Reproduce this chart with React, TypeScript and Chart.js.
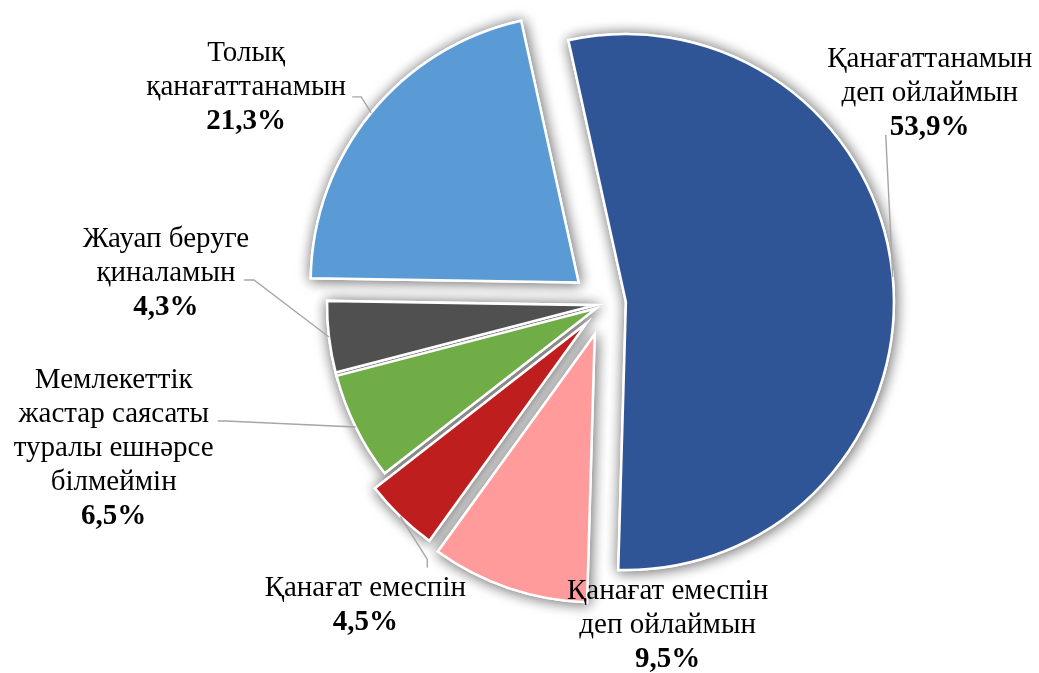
import React, { useEffect, useRef } from 'react';
import { Chart, registerables } from 'chart.js';

Chart.register(...registerables);

// ---- data ----
const categories: string[][] = [
  ['Қанағаттанамын', 'деп ойлаймын'],
  ['Қанағат емеспін', 'деп ойлаймын'],
  ['Қанағат емеспін'],
  ['Мемлекеттік', 'жастар саясаты', 'туралы ешнәрсе', 'білмеймін'],
  ['Жауап беруге', 'қиналамын'],
  ['Толық', 'қанағаттанамын'],
];
const values: number[] = [53.9, 9.5, 4.5, 6.5, 4.3, 21.3];

// ---- styles / layout ----
const sliceColors = ['#2F5597', '#FF9B9B', '#BE1E1E', '#70AD47', '#505050', '#5B9BD5'];
const explodeOffsets = [21, 32, 27, 10, 10, 34];
// label centre x offset and first baseline y offset, relative to the slice's outer mid point
const labelOffsets: [number, number][] = [
  [37, -210],
  [159, 11],
  [-35, 80],
  [-242, -39],
  [-163, -90],
  [-125, -52],
];
// leader line points relative to the slice's outer mid point
const leaderPaths: [number, number][][] = [
  [[0, 0], [-7, -142]],
  [],
  [[0, 0], [27, 43], [27, 51]],
  [[0, 0], [-130, -6], [-138, -6]],
  [[0, 0], [-75, -57], [-85, -57]],
  [[0, 0], [-10, -16], [-19, -16]],
];

const FONT_FAMILY = "'Liberation Serif', 'Times New Roman', serif";
const FONT_SIZE = 29;
const LINE_H = 34;

const fmt = (v: number) => v.toFixed(1).replace('.', ',') + '%';

const explodePlugin = {
  id: 'explode',
  afterDatasetsUpdate(chart: any) {
    const meta = chart.getDatasetMeta(0);
    meta.data.forEach((arc: any, i: number) => {
      const mid = (arc.startAngle + arc.endAngle) / 2;
      const d = explodeOffsets[i] || 0;
      arc.x += Math.cos(mid) * d;
      arc.y += Math.sin(mid) * d;
    });
  },
};

const shadowPlugin = {
  id: 'sliceShadow',
  beforeDatasetDraw(chart: any, args: any) {
    const ctx = chart.ctx;
    const meta = chart.getDatasetMeta(args.index);
    ctx.save();
    ctx.shadowColor = 'rgba(0,0,0,0.6)';
    ctx.shadowBlur = 14;
    ctx.shadowOffsetX = 1;
    ctx.shadowOffsetY = 1;
    meta.data.forEach((arc: any) => arc.draw(ctx));
    ctx.restore();
  },
};

const labelPlugin = {
  id: 'outLabels',
  afterDatasetsDraw(chart: any) {
    const ctx = chart.ctx;
    const meta = chart.getDatasetMeta(0);
    meta.data.forEach((arc: any, i: number) => {
      const mid = (arc.startAngle + arc.endAngle) / 2;
      const ax = arc.x + Math.cos(mid) * arc.outerRadius;
      const ay = arc.y + Math.sin(mid) * arc.outerRadius;
      const path = leaderPaths[i];
      if (path && path.length > 1) {
        ctx.save();
        ctx.strokeStyle = '#A6A6A6';
        ctx.lineWidth = 1.4;
        ctx.beginPath();
        path.forEach(([px, py], k) => {
          if (k === 0) ctx.moveTo(ax + px, ay + py);
          else ctx.lineTo(ax + px, ay + py);
        });
        ctx.stroke();
        ctx.restore();
      }
      const [dx, dy] = labelOffsets[i];
      const cx = ax + dx;
      let by = ay + dy;
      ctx.save();
      ctx.fillStyle = '#000000';
      ctx.textAlign = 'center';
      ctx.textBaseline = 'alphabetic';
      ctx.font = `${FONT_SIZE}px ${FONT_FAMILY}`;
      const lines = chart.data.labels[i] as string[];
      lines.forEach((ln: string) => {
        ctx.fillText(ln, cx, by);
        by += LINE_H;
      });
      ctx.font = `bold ${FONT_SIZE}px ${FONT_FAMILY}`;
      ctx.fillText(fmt(chart.data.datasets[0].data[i]), cx, by);
      ctx.restore();
    });
  },
};

export default function App() {
  const canvasRef = useRef<HTMLCanvasElement | null>(null);

  useEffect(() => {
    if (!canvasRef.current) return;
    const chart = new Chart(canvasRef.current, {
      type: 'pie',
      data: {
        labels: categories,
        datasets: [
          {
            data: values,
            backgroundColor: sliceColors,
            borderColor: '#FFFFFF',
            borderWidth: 2.5,
            borderJoinStyle: 'miter',
          } as any,
        ],
      },
      options: {
        animation: false,
        responsive: true,
        maintainAspectRatio: false,
        rotation: -12.4,
        radius: 268,
        layout: { padding: { left: 171, right: 0, top: 0, bottom: 65 } },
        plugins: {
          legend: { display: false },
          tooltip: { enabled: false },
        },
      } as any,
      plugins: [explodePlugin, shadowPlugin, labelPlugin],
    });
    return () => chart.destroy();
  }, []);

  return (
    <div style={{ position: 'fixed', left: 0, top: 0, width: 1039, height: 673, background: '#FFFFFF' }}>
      <canvas ref={canvasRef} />
    </div>
  );
}
